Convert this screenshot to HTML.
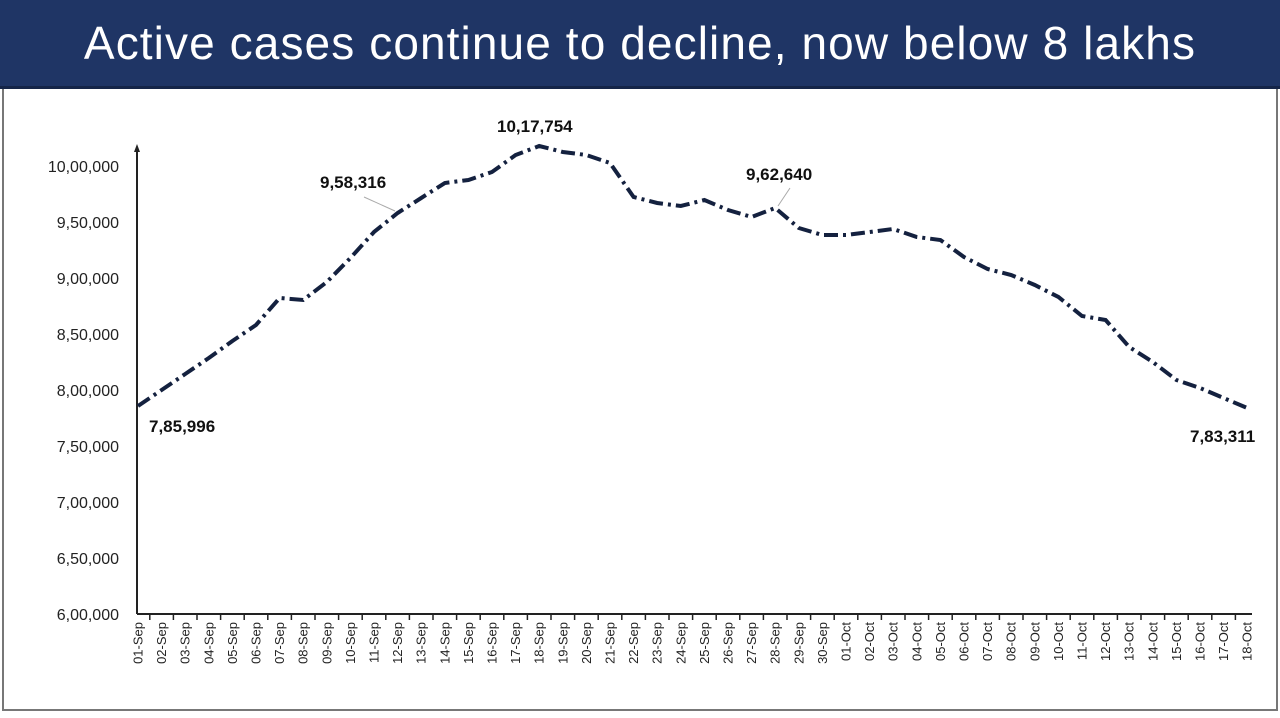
<!DOCTYPE html>
<html><head><meta charset="utf-8"><style>
body{margin:0;width:1280px;height:718px;background:#fff;overflow:hidden;font-family:"Liberation Sans",sans-serif}
.hd{position:absolute;left:0;top:0;width:1280px;height:86px;background:#1f3565;border-bottom:3px solid #152548}
.hd div{color:#fff;font-size:46px;text-align:center;line-height:86px;letter-spacing:1.1px}
.fr{position:absolute;left:2px;top:89px;width:1272px;height:620px;border:2px solid #777;border-top:none}
</style></head><body>
<div class="hd"><div>Active cases continue to decline, now below 8 lakhs</div></div>
<div class="fr"></div>
<svg width="1280" height="718" style="position:absolute;left:0;top:0" font-family="Liberation Sans, sans-serif">
<g fill="#222" font-size="16" text-anchor="end">
<text x="119" y="172">10,00,000</text><text x="119" y="228">9,50,000</text><text x="119" y="284">9,00,000</text>
<text x="119" y="340">8,50,000</text><text x="119" y="396">8,00,000</text><text x="119" y="452">7,50,000</text>
<text x="119" y="508">7,00,000</text><text x="119" y="564">6,50,000</text><text x="119" y="620">6,00,000</text>
</g>
<line x1="137" y1="150" x2="137" y2="614" stroke="#222" stroke-width="2"/>
<polygon points="137,144 134,152 140,152" fill="#222"/>
<line x1="137" y1="614" x2="1252" y2="614" stroke="#222" stroke-width="2"/>
<g id="ticks" stroke="#222" stroke-width="1.5"></g>
<g id="labs" font-size="13" fill="#222"></g>
<polyline id="ln" fill="none" stroke="#14213f" stroke-width="4" stroke-dasharray="14,5,3,5"/>
<g font-weight="bold" font-size="17" fill="#111">
<text x="149" y="432">7,85,996</text>
<text x="320" y="188">9,58,316</text>
<text x="497" y="132">10,17,754</text>
<text x="746" y="180">9,62,640</text>
<text x="1190" y="442">7,83,311</text>
</g>
<g stroke="#aaa" stroke-width="1"><line x1="364" y1="197" x2="395" y2="211"/><line x1="790" y1="188" x2="778" y2="206"/></g>
</svg>
<script>
var ys=[406,390,374,358,341,325,298,300,282,258,232,213,198,183,180,172,155,146,152,155,163,197,203,206,200,210,217,208,228,235,235,232,229,237,240,257,269,275,285,297,316,320,347,362,380,388,398,408];
var pts=[],t='',l='';
for(var i=0;i<48;i++){var x=138+i*23.6;pts.push(x.toFixed(1)+','+ys[i]);
 if(i<47)t+='<line x1="'+(x+11.8)+'" y1="614" x2="'+(x+11.8)+'" y2="620"/>';
 var d=(i<30?String(i+1).padStart(2,'0')+'-Sep':String(i-29).padStart(2,'0')+'-Oct');
 l+='<text transform="translate('+(x+4.5)+',622) rotate(-90)" text-anchor="end">'+d+'</text>';}
document.getElementById('ln').setAttribute('points',pts.join(' '));
document.getElementById('ticks').innerHTML=t;document.getElementById('labs').innerHTML=l;
</script>
</body></html>
